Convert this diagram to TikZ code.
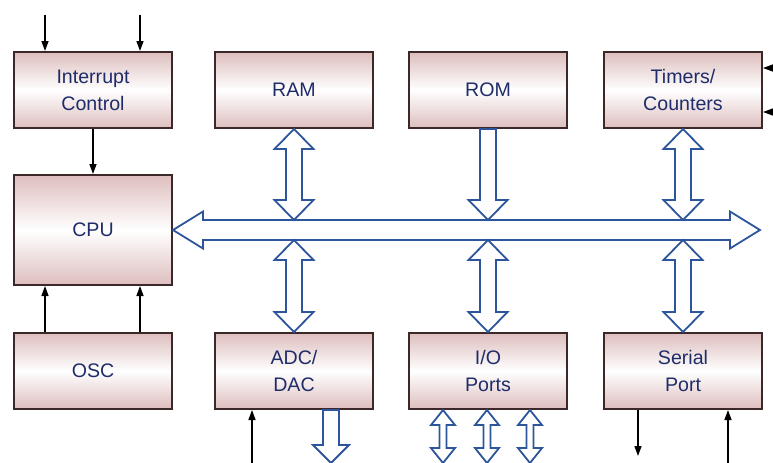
\documentclass[tikz,border=0pt]{standalone}
\usepackage{fontspec}
\setmainfont{Liberation Sans}
\usetikzlibrary{arrows.meta, calc}

\definecolor{boxpink}{RGB}{222,190,190}
\definecolor{boxedge}{RGB}{60,40,40}
\definecolor{txtblue}{RGB}{30,45,105}
\definecolor{busblue}{RGB}{45,85,155}

% sizes of the hollow arrows: shaft half width, head half width, head length
\def\sw{8}\def\hw{19.5}\def\hl{20}
% hollow (outlined) bus arrows: #1 upper tip, #2 lower tip
\newcommand\vdouble[2]{%
  \coordinate (ha) at (#1); \coordinate (hb) at (#2);
  \draw[bus] (ha) -- ($(ha)+(\hw,\hl)$) -- ($(ha)+(\sw,\hl)$) -- ($(hb)+(\sw,-\hl)$)
    -- ($(hb)+(\hw,-\hl)$) -- (hb) -- ($(hb)+(-\hw,-\hl)$) -- ($(hb)+(-\sw,-\hl)$)
    -- ($(ha)+(-\sw,\hl)$) -- ($(ha)+(-\hw,\hl)$) -- cycle;}
\newcommand\vsingle[2]{%
  \coordinate (ha) at (#1); \coordinate (hb) at (#2);
  \draw[bus] ($(ha)+(-\sw,0)$) -- ($(ha)+(\sw,0)$) -- ($(hb)+(\sw,-\hl)$)
    -- ($(hb)+(\hw,-\hl)$) -- (hb) -- ($(hb)+(-\hw,-\hl)$) -- ($(hb)+(-\sw,-\hl)$) -- cycle;}

\begin{document}
\begin{tikzpicture}[
  x=0.5pt, y=-0.5pt,
  blk/.style={draw=boxedge, line width=1pt, top color=boxpink, bottom color=boxpink,
    middle color=white, minimum width=79pt, minimum height=38pt, align=center,
    text=txtblue, font=\fontsize{9.8}{13.5}\selectfont},
  bus/.style={draw=busblue, line width=0.9pt, fill=white, line join=miter},
  arr/.style={-{Triangle[length=5pt,width=3.5pt]}, line width=0.7pt}
]
  \useasboundingbox (0,0) rectangle (773,462);
  \clip (0,0) rectangle (773,462);

  %% Top row
  \node[blk] (intr) at (93,90)  {Interrupt\\Control};
  \node[blk] (ram)  at (294,90) {RAM};
  \node[blk] (rom)  at (488,90) {ROM};
  \node[blk] (tim)  at (683,90) {Timers/\\Counters};

  %% CPU and OSC
  \node[blk, minimum height=55pt] (cpu) at (93,230) {CPU};
  \node[blk] (osc)  at (93,371) {OSC};

  %% Bottom row
  \node[blk] (adc)  at (294,371) {ADC/\\DAC};
  \node[blk] (io)   at (488,371) {I/O\\Ports};
  \node[blk] (ser)  at (683,371) {Serial\\Port};

  %% System bus
  \coordinate (busL) at (cpu.east);
  \coordinate (busR) at (760,230);
  \coordinate (busT) at (0,220);
  \coordinate (busB) at (0,240);
  \draw[bus] (busL) -- ++(30,-18.5) -- ++(0,8.5) -- ($(busR)+(-30,-10)$) -- ++(0,-8.5)
    -- (busR) -- ++(-30,18.5) -- ++(0,-8.5) -- ($(busL)+(30,10)$) -- ++(0,8.5) -- cycle;

  %% Bus connections
  \vdouble{ram.south}{ram.south |- busT}
  \vsingle{rom.south}{rom.south |- busT}
  \vdouble{tim.south}{tim.south |- busT}
  \vdouble{ram.south |- busB}{adc.north}
  \vdouble{rom.south |- busB}{io.north}
  \vdouble{tim.south |- busB}{ser.north}

  %% Interrupt inputs
  \coordinate (irq1) at (45,15);
  \coordinate (irq2) at (140,15);
  \draw[arr] (irq1) -- (irq1 |- intr.north);
  \draw[arr] (irq2) -- (irq2 |- intr.north);
  \draw[arr] (intr) -- (cpu);

  %% Clock
  \draw[arr] (osc.north -| irq1) -- (cpu.south -| irq1);
  \draw[arr] (osc.north -| irq2) -- (cpu.south -| irq2);

  %% Timer inputs
  \coordinate (t1) at (776,68);
  \coordinate (t2) at (776,112);
  \draw[arr] (t1) -- (t1 -| tim.east);
  \draw[arr] (t2) -- (t2 -| tim.east);

  %% ADC/DAC lines
  \coordinate (a1) at (252,466);
  \coordinate (a2) at (331,463);
  \draw[arr] (a1) -- (a1 |- adc.south);
  \begin{scope}
    \def\sw{8}\def\hw{18}\def\hl{18}
    \vsingle{a2 |- adc.south}{a2}
  \end{scope}

  %% I/O port lines
  \begin{scope}
    \def\sw{3.5}\def\hw{12}\def\hl{15}
    \foreach \x [count=\i] in {443,487,530} {
      \coordinate (p\i) at (\x,463);
      \vdouble{p\i |- io.south}{p\i}
    }
  \end{scope}

  %% Serial lines
  \coordinate (s1) at (638,456);
  \coordinate (s2) at (728,466);
  \draw[arr] (s1 |- ser.south) -- (s1);
  \draw[arr] (s2) -- (s2 |- ser.south);

\end{tikzpicture}
\end{document}
